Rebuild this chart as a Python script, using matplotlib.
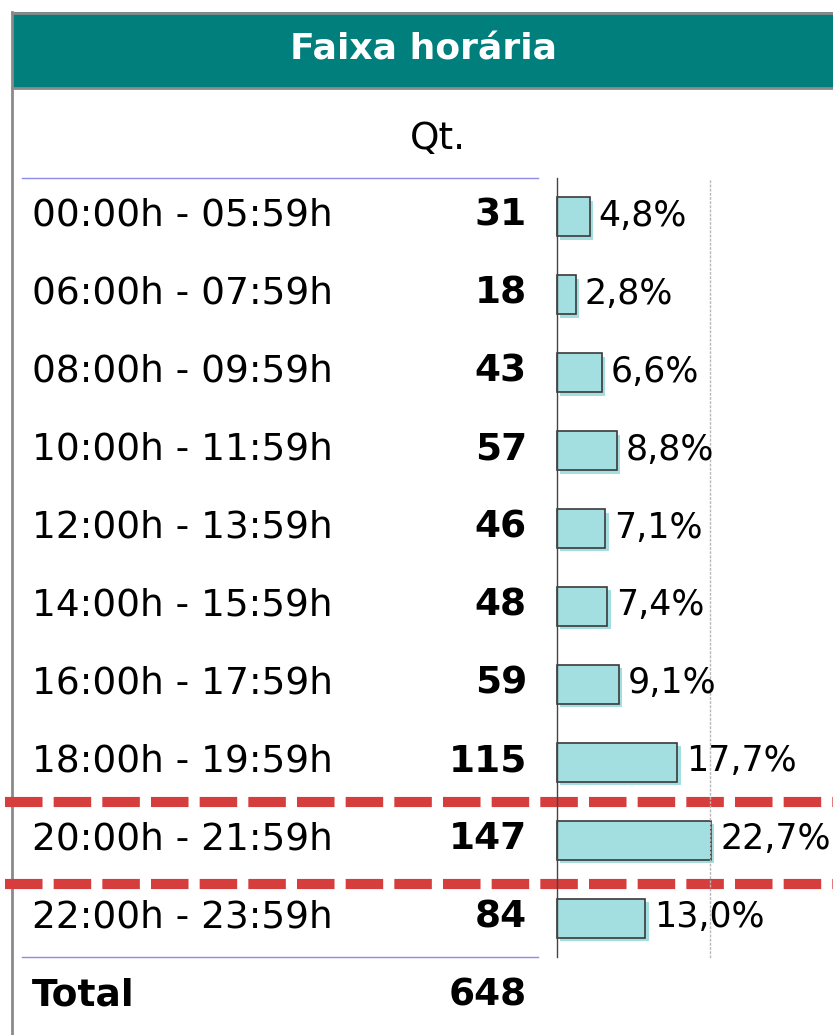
import numpy as np
import matplotlib
matplotlib.use("Agg")
import matplotlib.pyplot as plt
import matplotlib.patheffects as pe

# data
faixas = ["00:00h - 05:59h", "06:00h - 07:59h", "08:00h - 09:59h",
          "10:00h - 11:59h", "12:00h - 13:59h", "14:00h - 15:59h",
          "16:00h - 17:59h", "18:00h - 19:59h", "20:00h - 21:59h",
          "22:00h - 23:59h"]
qtd = [31, 18, 43, 57, 46, 48, 59, 115, 147, 84]
pct = [4.8, 2.8, 6.6, 8.8, 7.1, 7.4, 9.1, 17.7, 22.7, 13.0]
total = 648
destaque = 8  # linha em destaque (20:00h - 21:59h)

W, H = 833, 1035
TEAL = "#007f7d"
BAR = "#a3dfe0"
FS = 27

plt.rcParams["font.family"] = "DejaVu Sans"
fig = plt.figure(figsize=(W / 100, H / 100), dpi=100)

# fundo em coordenadas de pixel
bg = fig.add_axes([0, 0, 1, 1])
bg.set_xlim(0, W)
bg.set_ylim(H, 0)
bg.axis("off")

row0, step = 216, 77.9
def ry(i):
    return row0 + step * i

# moldura e cabecalho
bg.add_patch(plt.Rectangle((12, 12), W, 76, facecolor=TEAL, edgecolor="none"))
bg.plot([12, W], [12.5, 12.5], color="#8a8a8a", lw=2)
bg.plot([12, W], [88, 88], color="#8a8a8a", lw=2)
bg.plot([12, 12], [12, H], color="#8a8a8a", lw=2)
bg.text(424, 50, "Faixa horária", color="white", fontsize=26, fontweight="bold",
        ha="center", va="center")
bg.text(438, 139, "Qt.", fontsize=FS, ha="center", va="center")

# linhas azuis
for yy in (178, 957):
    bg.plot([22, 538], [yy, yy], color="#8c8ce6", lw=1)

for i, (f, q) in enumerate(zip(faixas, qtd)):
    bg.text(32, ry(i), f, fontsize=FS, ha="left", va="center")
    bg.text(527, ry(i), str(q), fontsize=FS, ha="right", va="center",
            fontweight="bold")
bg.text(32, ry(len(faixas)), "Total", fontsize=FS, ha="left", va="center",
        fontweight="bold")
bg.text(527, ry(len(faixas)), str(total), fontsize=FS, ha="right", va="center",
        fontweight="bold")

# barras
x0, x1, y0, y1 = 557, 710, 178, 957
ax = fig.add_axes([x0 / W, 1 - y1 / H, (x1 - x0) / W, (y1 - y0) / H])
ax.set_xlim(0, 22.55)
ax.set_ylim(len(pct) - 0.5, -0.5)
ax.patch.set_alpha(0)
for s in ("top", "bottom"):
    ax.spines[s].set_visible(False)
ax.spines["left"].set_color("#444444")
ax.spines["left"].set_linewidth(1)
ax.spines["right"].set_color("#b8b8b8")
ax.spines["right"].set_linestyle((0, (1, 2)))
ax.spines["right"].set_linewidth(1)
ax.set_xticks([])
ax.set_yticks([])

bars = ax.barh(range(len(pct)), pct, height=0.5, color=BAR, edgecolor="#3a3a3a",
               linewidth=1.2, clip_on=False)
for b in bars:
    b.set_path_effects([pe.SimplePatchShadow(offset=(2.5, -2.5), shadow_rgbFace=BAR,
                                             alpha=1.0), pe.Normal()])
for i, p in enumerate(pct):
    ax.annotate(f"{p:.1f}%".replace(".", ","), (p, i), xytext=(9, 1),
                textcoords="offset pixels", fontsize=25, ha="left", va="center",
                annotation_clip=False)

# linhas tracejadas vermelhas em torno da linha em destaque
for yy in (ry(destaque) - 37, ry(destaque) + 45):
    bg.plot([5, W], [yy, yy], color="#d63e3e", lw=7.3, dashes=(3.7, 1.1),
            solid_capstyle="butt", dash_capstyle="butt", zorder=10)

fig.savefig("out.png", dpi=100)
